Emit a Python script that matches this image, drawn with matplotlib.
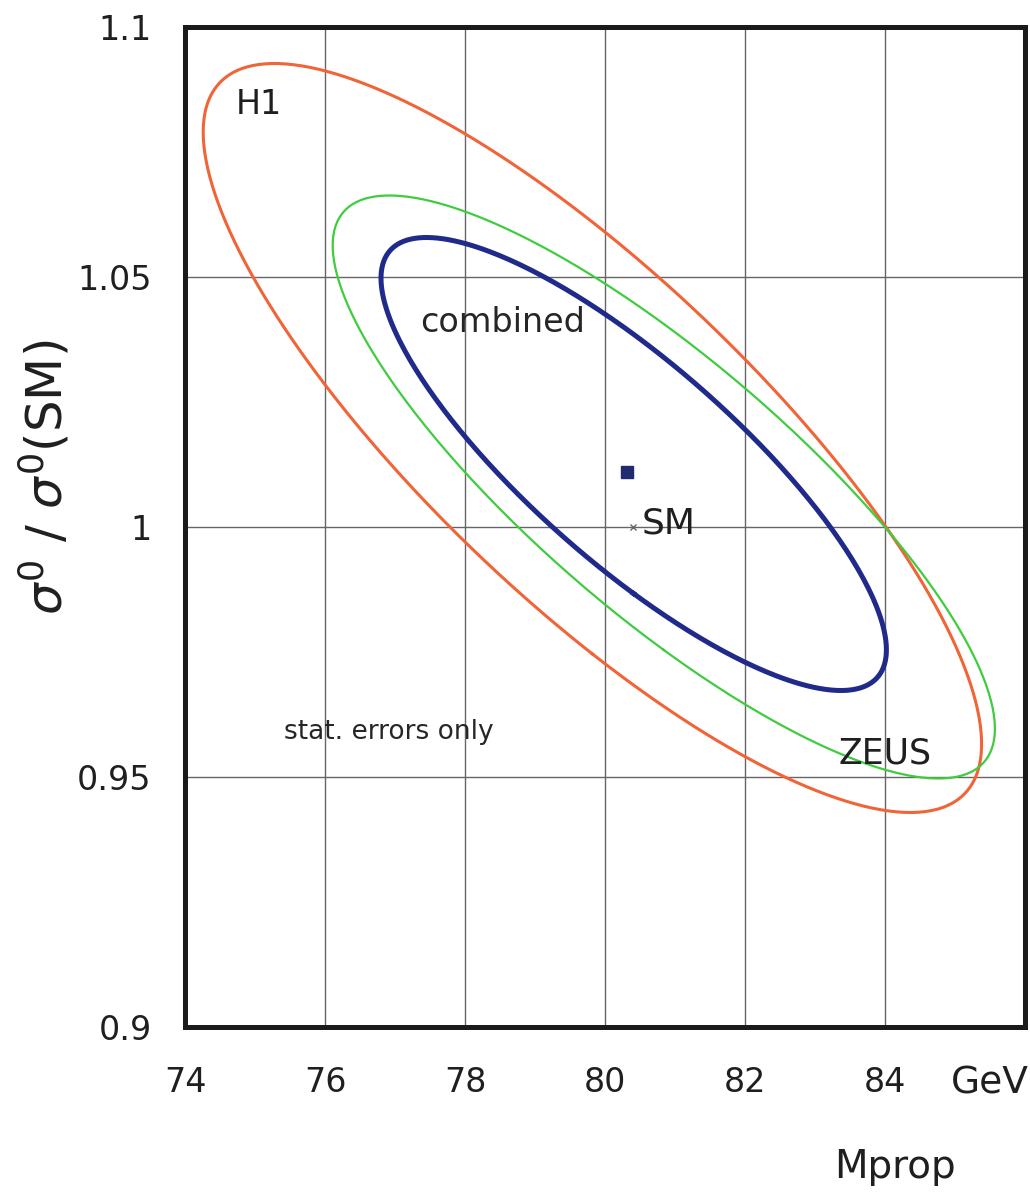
#!/usr/bin/env python3
"""Propagator mass vs. cross-section normalisation: H1, ZEUS and combined contours."""
import numpy as np
import matplotlib
matplotlib.use("Agg")
import matplotlib.pyplot as plt

# contour parameters (centre, half-extent along each axis, correlation)
ELL_NAMES = ["H1", "ZEUS", "combined"]
ELL_MX = [79.82, 80.84, 80.41]
ELL_MY = [1.0178, 1.0080, 1.0126]
ELL_SX = [5.56, 4.73, 3.61]
ELL_SY = [0.0749, 0.0583, 0.0453]
ELL_RHO = [-0.817, -0.829, -0.82]
ELL_COLORS = ["#f06437", "#3fcc3f", "#1f2a8a"]
ELL_LW = [2.2, 1.6, 3.6]

FIT_POINT = (80.32, 1.011)
SM_POINT = (80.4, 1.0)

X_TICKS = [74, 76, 78, 80, 82, 84]
Y_TICKS = [0.9, 0.95, 1.0, 1.05, 1.1]
Y_TICKLABELS = ["0.9", "0.95", "1", "1.05", "1.1"]


def ellipse_xy(mx, my, sx, sy, rho, n=400):
    cov = np.array([[sx * sx, rho * sx * sy], [rho * sx * sy, sy * sy]])
    vals, vecs = np.linalg.eigh(cov)
    t = np.linspace(0, 2 * np.pi, n)
    circle = np.stack([np.cos(t), np.sin(t)])
    pts = vecs @ (np.sqrt(vals)[:, None] * circle)
    return mx + pts[0], my + pts[1]


plt.rcParams.update({"font.family": "DejaVu Sans", "mathtext.fontset": "dejavusans"})

fig = plt.figure(figsize=(10.30, 11.96), dpi=100)
ax = fig.add_axes([185 / 1030, 1 - 1027 / 1196, (1025 - 185) / 1030, 1000 / 1196])

for name, mx, my, sx, sy, rho, c, lw in zip(ELL_NAMES, ELL_MX, ELL_MY, ELL_SX,
                                             ELL_SY, ELL_RHO, ELL_COLORS, ELL_LW):
    ex, ey = ellipse_xy(mx, my, sx, sy, rho)
    ax.plot(ex, ey, color=c, lw=lw, zorder=3)

ax.plot(*FIT_POINT, marker="s", ms=9, color="#1f2a70", zorder=4)
ax.plot(*SM_POINT, marker="x", ms=5, mew=1.0, color="0.4", zorder=4)

ax.text(SM_POINT[0] + 0.12, SM_POINT[1] + 0.0006, "SM", fontsize=26, va="center", color="0.12")
ax.text(75.05, 1.0846, "H1", fontsize=24, ha="center", va="center", color="0.12")
ax.text(78.54, 1.041, "combined", fontsize=24, ha="center", va="center", color="0.15")
ax.text(84.0, 0.9546, "ZEUS", fontsize=25, ha="center", va="center", color="0.12")
ax.text(76.91, 0.959, "stat. errors only", fontsize=19, ha="center", va="center", color="0.15")

ax.set_xlim(74, 86)
ax.set_ylim(0.9, 1.1)
ax.set_xticks(X_TICKS)
ax.set_yticks(Y_TICKS)
ax.set_yticklabels(Y_TICKLABELS)
ax.grid(True, color="0.4", lw=1.0)
ax.set_axisbelow(True)
ax.tick_params(length=0, labelsize=24, colors="0.12")
ax.tick_params(axis="x", pad=28)
ax.tick_params(axis="y", pad=24)
for sp in ax.spines.values():
    sp.set_linewidth(3.6)
    sp.set_color("0.1")

ax.annotate("GeV", xy=(85.5, 0), xycoords=("data", "axes fraction"),
            xytext=(0, -28), textcoords="offset points", ha="center", va="top",
            fontsize=27, color="0.12", annotation_clip=False)

fig.text(895 / 1030, 1 - 1167 / 1196, "Mprop", fontsize=28, ha="center", va="center", color="0.12")
fig.text(45 / 1030, 1 - 477 / 1196, r"$\sigma^0$ / $\sigma^0$(SM)", fontsize=36,
         rotation=90, ha="center", va="center", color="0.12")

fig.savefig("out.png", dpi=100, facecolor="white")
